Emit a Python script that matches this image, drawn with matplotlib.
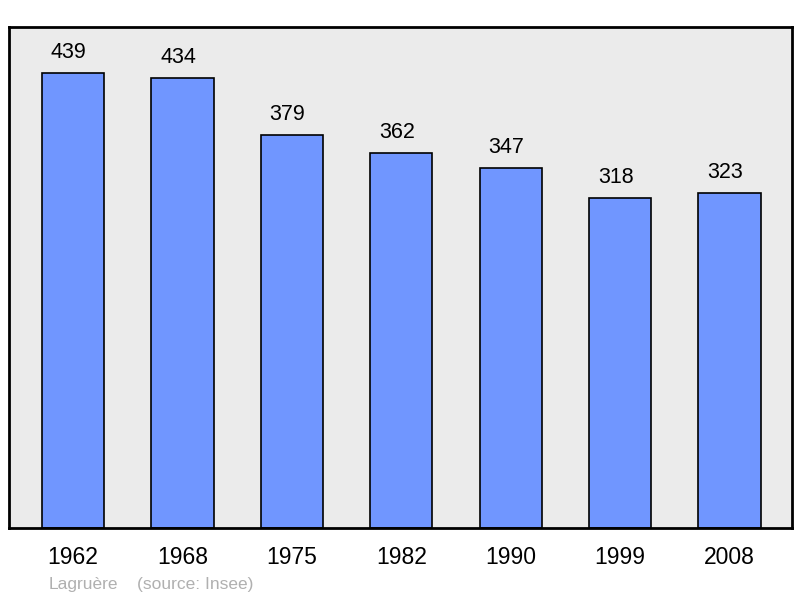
import matplotlib
matplotlib.use("Agg")
import matplotlib.pyplot as plt

years = ["1962", "1968", "1975", "1982", "1990", "1999", "2008"]
population = [439, 434, 379, 362, 347, 318, 323]

plt.rcParams['font.family'] = ['Liberation Sans', 'DejaVu Sans']

fig = plt.figure(figsize=(8, 5.98), dpi=100)
ax = fig.add_axes([9/800, 1-528/598, 783/800, 501/598])
ax.set_facecolor('#ebebeb')
x = list(range(len(years)))
ax.bar(x, population, width=0.57, color='#7096ff', edgecolor='black', linewidth=1.2, zorder=2)
for xi, v in zip(x, population):
    ax.annotate(str(v), (xi, v), xytext=(-3.2, 10.8), textcoords='offset points',
                ha='center', va='baseline', fontsize=15.5)
ax.set_xlim(-0.585, 6.571)
ax.set_ylim(0, 483.5)
ax.set_yticks([])
ax.set_xticks(x)
ax.set_xticklabels(years, fontsize=16.5)
ax.tick_params(axis='x', length=0, pad=13)
for s in ax.spines.values():
    s.set_linewidth(2)
    s.set_color('black')
fig.text(49/800, 1-584/598, "Lagruère", color='#b0b0b0', fontsize=12.5, va='center', ha='left')
fig.text(137/800, 1-584/598, "(source: Insee)", color='#b0b0b0', fontsize=12.5, va='center', ha='left')
fig.savefig("out.png", dpi=100)
